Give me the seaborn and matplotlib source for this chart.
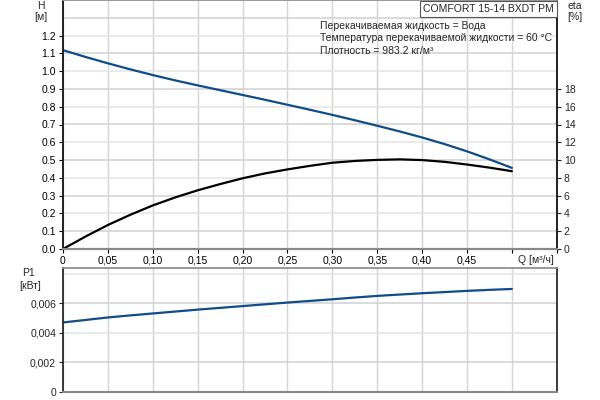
import numpy as np
import pandas as pd
import matplotlib
matplotlib.use("Agg")
import matplotlib.pyplot as plt
import seaborn as sns

# Data
q = [0.0, 0.025, 0.05, 0.075, 0.10, 0.125, 0.15, 0.175, 0.20, 0.225, 0.25, 0.275,
     0.30, 0.325, 0.35, 0.375, 0.40, 0.425, 0.45, 0.475, 0.50]
head = [1.118, 1.08, 1.044, 1.01, 0.978, 0.948, 0.92, 0.893, 0.866, 0.839, 0.811, 0.783,
        0.754, 0.724, 0.693, 0.661, 0.627, 0.59, 0.549, 0.504, 0.456]
eta = [0.0, 1.4, 2.7, 3.85, 4.9, 5.8, 6.6, 7.3, 7.95, 8.5, 8.95, 9.35,
       9.7, 9.9, 10.02, 10.08, 10.0, 9.8, 9.5, 9.15, 8.75]
p1 = [0.00471, 0.00488, 0.00505, 0.00519, 0.00532, 0.00545, 0.00558, 0.0057, 0.00582, 0.00594,
      0.00606, 0.00617, 0.00628, 0.0064, 0.00651, 0.0066, 0.00669, 0.00677, 0.00685, 0.00692, 0.00698]

x_ticks = [0, 0.05, 0.10, 0.15, 0.20, 0.25, 0.30, 0.35, 0.40, 0.45, 0.50, 0.55]
x_labels = ["0", "0,05", "0,10", "0,15", "0,20", "0,25", "0,30", "0,35", "0,40", "0,45", "", ""]
h_ticks = [0.0, 0.1, 0.2, 0.3, 0.4, 0.5, 0.6, 0.7, 0.8, 0.9, 1.0, 1.1, 1.2]
eta_ticks = [0, 2, 4, 6, 8, 10, 12, 14, 16, 18]
p_ticks = [0, 0.002, 0.004, 0.006]
p_labels = ["0", "0,002", "0,004", "0,006"]

info_lines = ["Перекачиваемая жидкость = Вода",
              "Температура перекачиваемой жидкости = 60 °C",
              "Плотность = 983.2 кг/м³"]

df = pd.DataFrame({"Q": q, "H": head, "eta": eta, "P1": p1})

sns.set_theme(style="white")
plt.rcParams["font.family"] = ["Liberation Sans", "DejaVu Sans"]
plt.rcParams["font.size"] = 7.5

blue = "#0f4c8a"
grid_c = "#d4d4d4"
grid_light = "#e6e6e6"

fig = plt.figure(figsize=(6, 4), dpi=100)
ax = fig.add_axes([0.105, 0.3775, 0.823, 0.6225])
ax2 = ax.twinx()
axp = fig.add_axes([0.105, 0.02, 0.823, 0.31])

xgrid = np.arange(0, 0.551, 0.05)

# top: head + efficiency
for xv in xgrid:
    ax.axvline(xv, color=grid_c, lw=1, zorder=0)
for i, yv in enumerate(np.arange(0, 1.41, 0.1)):
    ax.axhline(yv, color=grid_c if i % 2 else grid_light, lw=1.2, zorder=0)
sns.lineplot(data=df, x="Q", y="H", ax=ax, color=blue, lw=1.6)
sns.lineplot(data=df, x="Q", y="eta", ax=ax2, color="black", lw=1.6)
ax.set_xlim(0, 0.55)
ax.set_ylim(0, 1.4)
ax2.set_ylim(0, 28)
ax.set_xticks(x_ticks)
ax.set_xticklabels(x_labels)
ax.set_yticks(h_ticks)
ax.set_yticklabels([f"{v:.1f}" for v in h_ticks])
ax2.set_yticks(eta_ticks)
ax.set_xlabel("")
ax.set_ylabel("")
ax2.set_ylabel("")
ax.tick_params(axis="both", length=3, width=0.8, pad=2, colors="black", labelsize=7.5, direction="out", left=True, bottom=True)
ax2.tick_params(axis="y", length=3, width=0.8, pad=2, labelsize=7.5, direction="out", right=True)
for a in (ax, ax2):
    a.spines["top"].set_color("#999999")
    a.spines["left"].set_color("#222222")
    a.spines["right"].set_color("#222222")
    a.spines["bottom"].set_color("#888888")
    a.spines["bottom"].set_linewidth(1.5)

fig.text(0.068, 0.985, "H", ha="center", va="center", fontsize=7.5)
fig.text(0.068, 0.958, "[м]", ha="center", va="center", fontsize=7.5)
fig.text(0.958, 0.985, "eta", ha="center", va="center", fontsize=7.5)
fig.text(0.958, 0.958, "[%]", ha="center", va="center", fontsize=7.5)
fig.text(0.923, 0.35, "Q [м³/ч]", ha="right", va="center", fontsize=7.5)
fig.text(0.923, 0.99, "COMFORT 15-14 BXDT PM", ha="right", va="top", fontsize=7.5,
         bbox=dict(boxstyle="square,pad=0.3", fc="white", ec="#555555", lw=0.8))
for i, line in enumerate(info_lines):
    fig.text(0.533, 0.936 - i * 0.032, line, ha="left", va="center", fontsize=7.5)

# bottom: power
for xv in xgrid:
    axp.axvline(xv, color=grid_c, lw=1, zorder=0)
for yv, c in zip([0.002, 0.004, 0.006, 0.008], [grid_c, grid_light, grid_c, grid_light]):
    axp.axhline(yv, color=c, lw=1.2, zorder=0)
sns.lineplot(data=df, x="Q", y="P1", ax=axp, color=blue, lw=1.6)
axp.set_xlim(0, 0.55)
axp.set_ylim(0, 0.0084)
axp.set_xticks(x_ticks)
axp.set_xticklabels([])
axp.set_yticks(p_ticks)
axp.set_yticklabels(p_labels)
axp.set_xlabel("")
axp.set_ylabel("")
axp.tick_params(axis="both", length=3, width=0.8, pad=2, labelsize=7.5, direction="out", left=True, bottom=False)
axp.spines["top"].set_color("#888888")
axp.spines["top"].set_linewidth(1.2)
axp.spines["left"].set_color("#222222")
axp.spines["right"].set_color("#222222")
axp.spines["bottom"].set_color("#888888")
axp.spines["bottom"].set_linewidth(1.5)
fig.text(0.048, 0.318, "P1", ha="center", va="center", fontsize=7.5)
fig.text(0.05, 0.285, "[кВт]", ha="center", va="center", fontsize=7.5)

fig.savefig("out.png", dpi=100)
